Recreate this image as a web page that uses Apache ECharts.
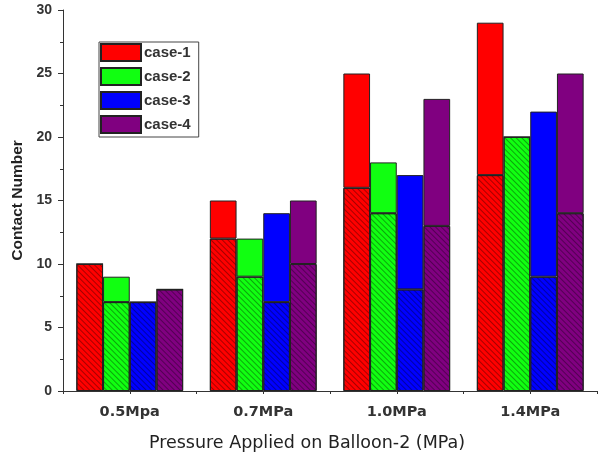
<!DOCTYPE html>
<html>
<head>
<meta charset="utf-8">
<script src="https://cdn.jsdelivr.net/npm/echarts@6/dist/echarts.min.js"></script>
<style>html,body{margin:0;padding:0;background:#fff}#c{width:600px;height:457px}</style>
</head>
<body>
<div id="c"></div>
<script>
var categories = ['0.5Mpa', '0.7MPa', '1.0MPa', '1.4MPa'];
var caseNames = ['case-1', 'case-2', 'case-3', 'case-4'];
// hatched (lower) part of each bar
var lower1 = [10, 12, 16, 17];
var lower2 = [7, 9, 14, 20];
var lower3 = [7, 7, 8, 9];
var lower4 = [8, 10, 13, 14];
// total height of each bar
var total1 = [10, 15, 25, 29];
var total2 = [9, 12, 18, 20];
var total3 = [7, 14, 17, 22];
var total4 = [8, 15, 23, 25];
var yTicks = [0, 5, 10, 15, 20, 25, 30];

var colors = ['#ff0000', '#11ff11', '#0000ff', '#800080'];
var lowers = [lower1, lower2, lower3, lower4];
var totals = [total1, total2, total3, total4];

var decal = {
  symbol: 'rect', symbolSize: 1, color: 'rgba(0,0,0,0.35)',
  dashArrayX: [1, 0], dashArrayY: [1, 3], rotation: Math.PI / 4
};

var series = [];
for (var i = 0; i < 4; i++) {
  series.push({
    name: caseNames[i] + ' (hatched)', type: 'bar', stack: 's' + i,
    barGap: '0%', barCategoryGap: '20%',
    data: lowers[i],
    itemStyle: { color: colors[i], borderColor: '#222', borderWidth: 1, decal: decal }
  });
  series.push({
    name: caseNames[i], type: 'bar', stack: 's' + i,
    barGap: '0%', barCategoryGap: '20%',
    data: totals[i].map(function (t, k) { return t - lowers[i][k]; }),
    itemStyle: { color: colors[i], borderColor: '#222', borderWidth: 1 }
  });
}

var chart = echarts.init(document.getElementById('c'), null, { renderer: 'canvas' });
chart.setOption({
  animation: false,
  textStyle: { fontFamily: 'Liberation Sans, Arial, sans-serif' },
  grid: { left: 63, right: 3, top: 10, bottom: 66 },
  legend: {
    data: caseNames, orient: 'vertical', left: 99, top: 42,
    icon: 'rect', itemWidth: 40, itemHeight: 17, itemGap: 5,
    borderColor: '#444', borderWidth: 1, padding: [1, 8, 3, 1],
    textStyle: { fontSize: 15, fontWeight: 'bold', color: '#333', padding: [0, 0, 0, -2] }
  },
  xAxis: [{
    type: 'category', data: categories,
    name: 'Pressure Applied on Balloon-2 (MPa)', nameLocation: 'middle', nameGap: 43,
    nameTextStyle: { fontSize: 17.5, color: '#222', fontFamily: 'DejaVu Sans', padding: [0, 46, 0, 0] },
    axisLine: { lineStyle: { color: '#333', width: 1 } },
    axisTick: { alignWithLabel: true, length: 4, lineStyle: { color: '#333' } },
    axisLabel: { fontSize: 14.5, fontWeight: 'bold', color: '#333', margin: 14, fontFamily: 'DejaVu Sans' }
  }, {
    type: 'value', position: 'bottom', min: 0, max: 4, interval: 0.5,
    axisLine: { show: false }, axisLabel: { show: false }, splitLine: { show: false },
    axisTick: { show: true, length: 3, lineStyle: { color: '#333' } }
  }],
  yAxis: {
    type: 'value', min: 0, max: 30, interval: 5,
    name: 'Contact Number', nameLocation: 'middle', nameGap: 37, nameRotate: 90,
    nameTextStyle: { fontSize: 15.5, fontWeight: 'bold', color: '#222' },
    axisLine: { show: true, lineStyle: { color: '#333' } },
    axisTick: { show: true, length: 5, lineStyle: { color: '#333' } },
    minorTick: { show: true, splitNumber: 2, length: 3, lineStyle: { color: '#333' } },
    splitLine: { show: false },
    axisLabel: {
      fontSize: 14, fontWeight: 'bold', color: '#333', margin: 11,
      formatter: function (v) { return yTicks.indexOf(v) >= 0 ? String(v) : ''; }
    }
  },
  series: series
});
</script>
</body>
</html>
